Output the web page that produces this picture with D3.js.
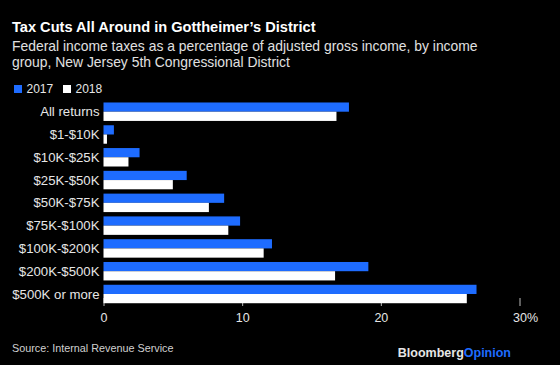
<!DOCTYPE html>
<html><head><meta charset="utf-8">
<script src="https://cdn.jsdelivr.net/npm/d3@7"></script>
<style>
html,body{margin:0;padding:0;background:#000;}
svg{display:block;}
text{font-family:"Liberation Sans",Arial,sans-serif;}
</style></head>
<body>
<script>
const categories = ["All returns","$1-$10K","$10K-$25K","$25K-$50K","$50K-$75K","$75K-$100K","$100K-$200K","$200K-$500K","$500K or more"];
const series = ["2017","2018"];
const values2017 = [17.7, 0.75, 2.6, 6.0, 8.7, 9.85, 12.15, 19.1, 26.9];
const values2018 = [16.8, 0.25, 1.8, 5.0, 7.6, 9.0, 11.55, 16.7, 26.2];
const tickValues = [0, 10, 20, 30];
const colors = ["#1e6cff", "#ffffff"];

const W = 560, H = 365;
const svg = d3.select("body").append("svg").attr("width", W).attr("height", H);
svg.append("rect").attr("width", W).attr("height", H).attr("fill", "#000");

svg.append("text").attr("x", 12).attr("y", 32).attr("fill", "#fff")
  .attr("font-size", 14.6).attr("font-weight", "bold")
  .text("Tax Cuts All Around in Gottheimer\u2019s District");
svg.append("text").attr("x", 12).attr("y", 50.5).attr("fill", "#e0e0e0").attr("font-size", 13.9)
  .text("Federal income taxes as a percentage of adjusted gross income, by income");
svg.append("text").attr("x", 12).attr("y", 66.5).attr("fill", "#e0e0e0").attr("font-size", 13.9)
  .text("group, New Jersey 5th Congressional District");

// legend
const legX = [14, 63];
series.forEach((s, i) => {
  svg.append("rect").attr("x", legX[i]).attr("y", 85).attr("width", 8).attr("height", 8).attr("fill", colors[i]);
  svg.append("text").attr("x", legX[i] + 12.5).attr("y", 93).attr("fill", "#e6e6e6").attr("font-size", 12).text(s);
});

const x = d3.scaleLinear().domain([0, 30]).range([103.5, 519.5]);
const y = d3.scaleBand().domain(categories).range([100.2, 305.5]).paddingInner(0.19).paddingOuter(0.1);
const ySub = d3.scaleBand().domain(series).range([0, y.bandwidth()]);

// ticks
const axis = d3.axisBottom(x).tickValues(tickValues).tickSize(8)
  .tickFormat(d => d === 30 ? "30%" : d);
const gAxis = svg.append("g").attr("transform", "translate(0,298)").call(axis);
gAxis.select(".domain").remove();
gAxis.selectAll(".tick line").attr("stroke", "#bbb").attr("stroke-width", 1);
gAxis.selectAll(".tick text").attr("fill", "#e6e6e6").attr("font-size", 12.5)
  .attr("font-family", "Liberation Sans, Arial, sans-serif").attr("y", 15).attr("dy", "0.71em")
  .attr("text-anchor", d => d === 30 ? "start" : "middle")
  .attr("dx", d => d === 30 ? "-7" : 0);

const data = [values2017, values2018];
const rows = svg.append("g").selectAll("g").data(categories).join("g")
  .attr("transform", d => `translate(0,${y(d)})`);
rows.selectAll("rect").data((d, i) => series.map((s, j) => ({s, v: data[j][i]}))).join("rect")
  .attr("x", x(0)).attr("y", d => ySub(d.s)).attr("height", ySub.bandwidth())
  .attr("width", d => x(d.v) - x(0)).attr("fill", (d, j) => colors[j]);

svg.append("g").selectAll("text").data(categories).join("text")
  .attr("x", 99.5).attr("y", d => y(d) + y.bandwidth() / 2).attr("dy", "0.35em")
  .attr("text-anchor", "end").attr("fill", "#e6e6e6").attr("font-size", 13.2).text(d => d);

svg.append("text").attr("x", 12).attr("y", 352).attr("fill", "#d0d0d0").attr("font-size", 10.8)
  .text("Source: Internal Revenue Service");
const brand = svg.append("text").attr("x", 511).attr("y", 356.5).attr("text-anchor", "end")
  .attr("font-size", 12.5).attr("font-weight", "bold");
brand.append("tspan").attr("fill", "#e6e6e6").text("Bloomberg");
brand.append("tspan").attr("fill", "#1e6cff").text("Opinion");
</script>
</body></html>
